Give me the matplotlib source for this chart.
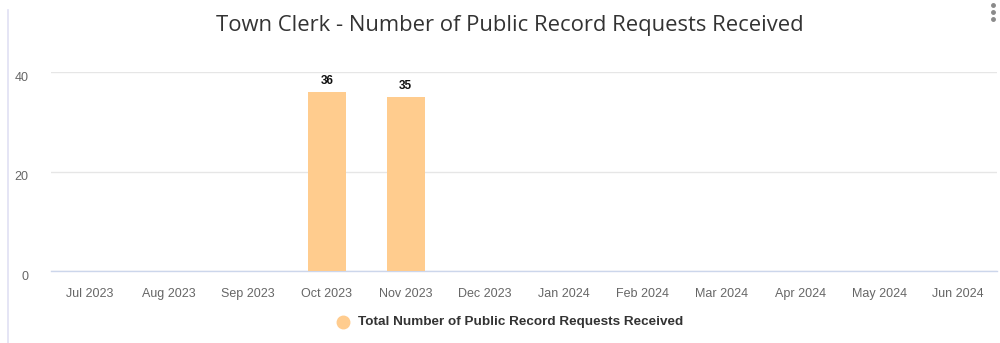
import matplotlib.pyplot as plt
from matplotlib.lines import Line2D
import numpy as np

months = ['Jul 2023', 'Aug 2023', 'Sep 2023', 'Oct 2023', 'Nov 2023', 'Dec 2023',
          'Jan 2024', 'Feb 2024', 'Mar 2024', 'Apr 2024', 'May 2024', 'Jun 2024']
requests = [0, 0, 0, 36, 35, 0, 0, 0, 0, 0, 0, 0]
series_name = 'Total Number of Public Record Requests Received'
title = 'Town Clerk - Number of Public Record Requests Received'

bar_color = '#ffcc8e'

fig = plt.figure(figsize=(10, 3.43), dpi=100)
ax = fig.add_axes([0.0505, 0.21, 0.947, 0.58])

x = np.arange(len(months))
ax.bar(x, requests, width=0.48, color=bar_color, zorder=3)
for xi, v in zip(x, requests):
    if v > 0:
        ax.text(xi, v + 1.0, str(v), ha='center', va='bottom', fontsize=8.5,
                fontweight='bold', color='#111111', family='Liberation Sans')

ax.set_xlim(-0.5, len(months) - 0.5)
ax.set_ylim(0, 40)
ax.set_yticks([0, 20, 40])
ax.set_xticks(x)
ax.set_xticklabels(months)
for lab in ax.get_xticklabels() + ax.get_yticklabels():
    lab.set_family('Liberation Sans')
    lab.set_fontsize(9)
    lab.set_color('#666666')
ax.tick_params(axis='both', length=0)
ax.tick_params(axis='x', pad=12)
ax.tick_params(axis='y', pad=16)
for lab in ax.get_yticklabels():
    lab.set_verticalalignment('top')

ax.grid(axis='y', color='#e6e6e6', linewidth=1, zorder=0)
for s in ['top', 'right', 'left']:
    ax.spines[s].set_visible(False)
ax.spines['bottom'].set_color('#ccd6eb')
ax.spines['bottom'].set_linewidth(1)

fig.text(0.51, 0.925, title, ha='center', va='center', fontsize=15.8,
         color='#333333', family='Open Sans')

# legend: marker + label below the axis
fig.lines.append(Line2D([0.343], [0.06], marker='o', markersize=9, color=bar_color,
                        linestyle='none', transform=fig.transFigure))
fig.text(0.358, 0.06, series_name, ha='left', va='center', fontsize=9.7,
         fontweight='bold', color='#333333', family='Liberation Sans')

# left frame edge and menu dots
fig.lines.append(Line2D([0.008, 0.008], [0.0, 0.97], color='#e0e0f4', linewidth=1.2,
                        transform=fig.transFigure))
for yy in [0.985, 0.965, 0.945]:
    fig.lines.append(Line2D([0.993], [yy], marker='o', markersize=2.5, color='#8a8a8a',
                            linestyle='none', transform=fig.transFigure))

fig.savefig('out.png', dpi=100)
